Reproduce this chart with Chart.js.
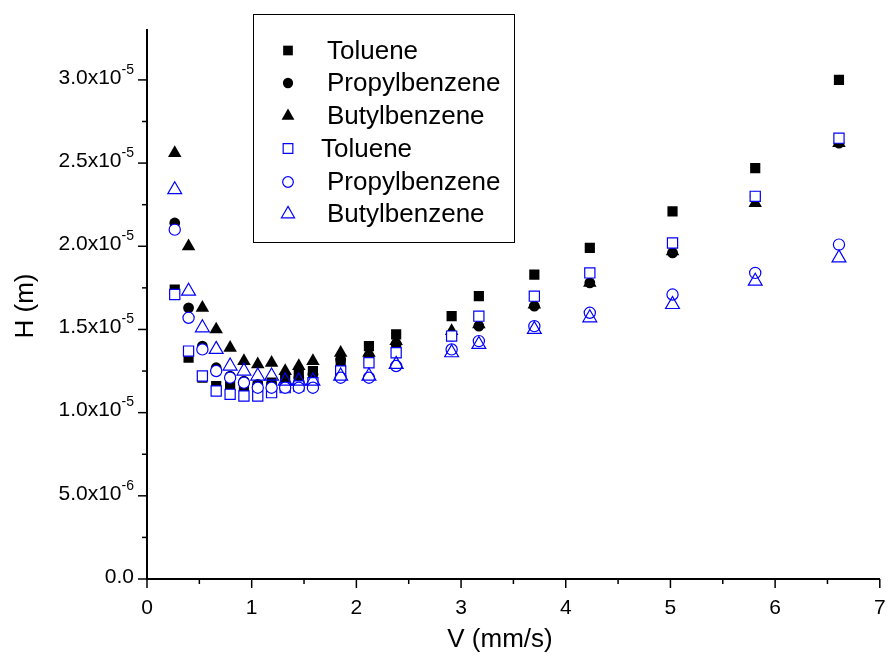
<!DOCTYPE html>
<html>
<head>
<meta charset="utf-8">
<script src="https://cdn.jsdelivr.net/npm/chart.js@4.4.0/dist/chart.umd.min.js"></script>
<style>
  html, body { margin: 0; padding: 0; background: #fff; }
  #wrap { width: 889px; height: 660px; }
</style>
</head>
<body>
<div id="wrap"><canvas id="chart" width="889" height="660"></canvas></div>
<script>
// flow velocity, mm/s
const V = [0.265, 0.397, 0.529, 0.661, 0.794, 0.926, 1.058, 1.19, 1.32, 1.45, 1.585,
           1.85, 2.12, 2.38, 2.91, 3.17, 3.70, 4.23, 5.02, 5.81, 6.61];

// plate height H, in units of 1e-6 m
const tolueneFilled = [17.4, 13.3, 12.1, 11.6, 11.6, 11.6, 11.6, 11.8, 12.0, 12.3, 12.5,
                       13.0, 14.0, 14.7, 15.8, 17.0, 18.3, 19.9, 22.1, 24.7, 30.0];
const propylFilled  = [21.4, 16.3, 14.0, 12.7, 12.2, 11.9, 11.7, 11.7, 11.8, 12.1, 12.3,
                       13.2, 13.4, 14.1, 14.6, 15.2, 16.4, 17.8, 19.6, 23.0, 26.2];
const butylFilled   = [25.6, 20.0, 16.3, 15.0, 13.9, 13.1, 12.9, 13.0, 12.5, 12.8, 13.1,
                       13.6, 13.6, 14.3, 14.9, 15.3, 16.5, 17.8, 19.7, 22.6, 26.2];
const tolueneOpen   = [17.1, 13.7, 12.2, 11.3, 11.1, 11.0, 11.0, 11.2, 11.5, 11.6, 11.8,
                       12.5, 13.0, 13.6, 14.6, 15.8, 17.0, 18.4, 20.2, 23.0, 26.5];
const propylOpen    = [21.0, 15.7, 13.8, 12.5, 12.1, 11.8, 11.5, 11.5, 11.5, 11.5, 11.5,
                       12.1, 12.1, 12.8, 13.8, 14.3, 15.2, 16.0, 17.1, 18.4, 20.1];
const butylOpen     = [23.4, 17.3, 15.1, 13.8, 12.8, 12.5, 12.2, 12.2, 11.9, 11.9, 11.9,
                       12.2, 12.2, 12.9, 13.6, 14.1, 15.0, 15.7, 16.5, 17.9, 19.3];

const LEGEND_LABELS = ['Toluene', 'Propylbenzene', 'Butylbenzene', 'Toluene', 'Propylbenzene', 'Butylbenzene'];
const X_TITLE = 'V (mm/s)';
const Y_TITLE = 'H (m)';

const FONT = '"Liberation Sans", Arial, sans-serif';
const BLUE = '#0000ff';

const pts = arr => V.map((v, i) => ({ x: v, y: arr[i] }));

const series = [
  { data: tolueneFilled, style: 'rect',     r: 7.2, fill: '#000', stroke: '#000', bw: 0 },
  { data: propylFilled,  style: 'circle',   r: 5.4, fill: '#000', stroke: '#000', bw: 0 },
  { data: butylFilled,   style: 'triangle', r: 7.8, fill: '#000', stroke: '#000', bw: 0 },
  { data: tolueneOpen,   style: 'rect',     r: 7.2, fill: '#fff', stroke: BLUE, bw: 1.2 },
  { data: propylOpen,    style: 'circle',   r: 5.6, fill: '#fff', stroke: BLUE, bw: 1.2 },
  { data: butylOpen,     style: 'triangle', r: 8.0, fill: 'rgba(0,0,0,0)', stroke: BLUE, bw: 1.2 },
];

const datasets = series.map((s, i) => ({
  label: LEGEND_LABELS[i],
  data: pts(s.data),
  showLine: false,
  pointStyle: s.style,
  pointRadius: s.r,
  pointBackgroundColor: s.fill,
  pointBorderColor: s.stroke,
  pointBorderWidth: s.bw,
  order: series.length - i,   // later series on top
}));

function yLabel(v) {
  if (v === 0) return ['0.0', ''];
  if (v >= 10) return [(v / 10).toFixed(1) + 'x10', '-5'];
  return [v.toFixed(1) + 'x10', '-6'];
}

const axisDecor = {
  id: 'axisDecor',
  afterDraw(chart) {
    const { ctx, chartArea: a, scales: { x, y } } = chart;
    ctx.save();
    ctx.strokeStyle = '#000';
    ctx.fillStyle = '#000';
    ctx.lineWidth = 1.5;

    // x ticks + labels
    ctx.font = `21px ${FONT}`;
    ctx.textAlign = 'center';
    ctx.textBaseline = 'middle';
    x.ticks.forEach(t => {
      const px = x.getPixelForValue(t.value);
      const major = Math.abs(t.value - Math.round(t.value)) < 1e-6;
      ctx.beginPath();
      ctx.moveTo(px, a.bottom);
      ctx.lineTo(px, a.bottom + (major ? 9 : 5));
      ctx.stroke();
      if (major) ctx.fillText(String(Math.round(t.value)), px, 608);
    });

    // y ticks + labels
    y.ticks.forEach(t => {
      const q = t.value / 2.5;
      if (Math.abs(q - Math.round(q)) > 1e-6) return;
      const py = y.getPixelForValue(t.value);
      const major = Math.round(q) % 2 === 0;
      ctx.beginPath();
      ctx.moveTo(a.left, py);
      ctx.lineTo(a.left - (major ? 9 : 5), py);
      ctx.stroke();
      if (!major) return;
      const [main, sup] = yLabel(t.value);
      ctx.textAlign = 'left';
      ctx.font = `14px ${FONT}`;
      const supW = ctx.measureText(sup).width;
      ctx.font = `21px ${FONT}`;
      const mainW = ctx.measureText(main).width;
      const right = 134;
      ctx.fillText(main, right - supW - mainW, py - 2);
      if (sup) {
        ctx.font = `14px ${FONT}`;
        ctx.fillText(sup, right - supW, py - 10);
      }
    });

    // axis titles
    ctx.font = `26px ${FONT}`;
    ctx.textAlign = 'center';
    ctx.textBaseline = 'middle';
    ctx.fillText(X_TITLE, 500, 640);
    ctx.translate(26, 306);
    ctx.rotate(-Math.PI / 2);
    ctx.fillText(Y_TITLE, 0, 0);
    ctx.restore();
  }
};

const boxLegend = {
  id: 'boxLegend',
  afterDraw(chart) {
    const { ctx } = chart;
    ctx.save();
    ctx.strokeStyle = '#000';
    ctx.lineWidth = 1;
    ctx.strokeRect(253.5, 14.5, 261, 228);
    const rows = [50.5, 83, 116, 148.5, 182, 214];
    const textX = [327, 327, 327, 321, 327, 327];
    ctx.font = `26px ${FONT}`;
    ctx.textBaseline = 'middle';
    ctx.textAlign = 'left';
    series.forEach((s, i) => {
      ctx.fillStyle = s.fill;
      ctx.strokeStyle = s.stroke;
      ctx.lineWidth = s.bw;
      Chart.helpers.drawPoint(ctx, {
        pointStyle: s.style, radius: s.r * 0.95, rotation: 0, borderWidth: s.bw
      }, 288, rows[i]);
      ctx.fillStyle = '#000';
      ctx.fillText(LEGEND_LABELS[i], textX[i], rows[i] + 1);
    });
    ctx.restore();
  }
};

new Chart(document.getElementById('chart'), {
  type: 'scatter',
  data: { datasets },
  options: {
    responsive: false,
    animation: false,
    events: [],
    layout: { padding: { top: 30, right: 7, left: 0, bottom: 0 } },
    plugins: { legend: { display: false }, tooltip: { enabled: false } },
    scales: {
      x: {
        type: 'linear', min: 0, max: 7,
        ticks: { display: false, stepSize: 0.5 },
        grid: { display: false, drawTicks: false },
        border: { display: true, color: '#000', width: 2 },
        afterFit: s => { s.height = 81; }
      },
      y: {
        type: 'linear', min: 0, max: 33,
        ticks: { display: false, stepSize: 2.5 },
        grid: { display: false, drawTicks: false },
        border: { display: true, color: '#000', width: 2 },
        afterFit: s => { s.width = 147; }
      }
    }
  },
  plugins: [axisDecor, boxLegend]
});
</script>
</body>
</html>
